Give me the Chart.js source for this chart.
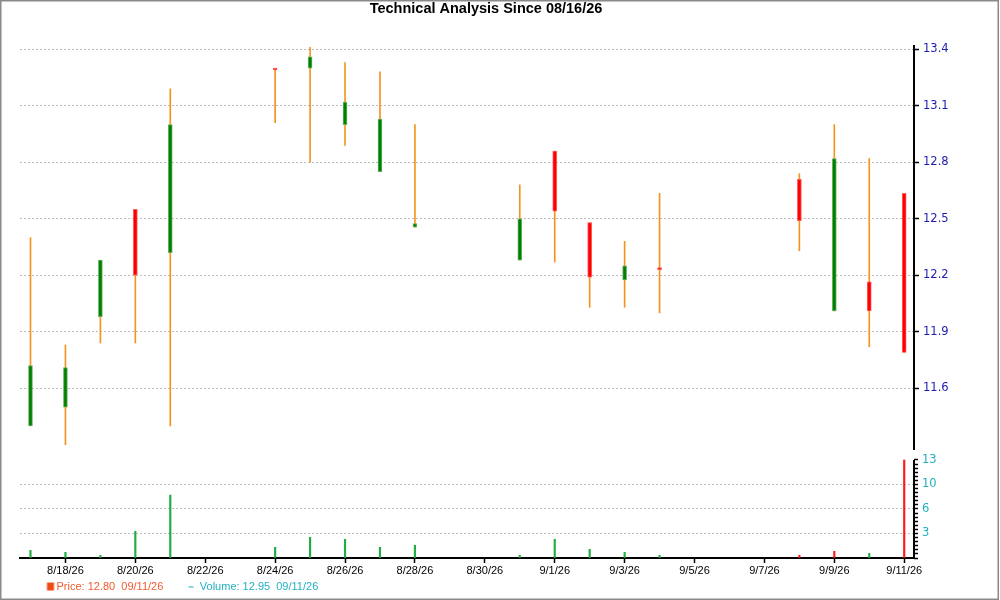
<!DOCTYPE html>
<html>
<head>
<meta charset="utf-8">
<title>Technical Analysis Since 08/16/26</title>
<script src="https://cdn.jsdelivr.net/npm/chart.js@4.4.1/dist/chart.umd.min.js"></script>
<style>
  html, body { margin: 0; padding: 0; background: #fff; }
  #wrap { position: relative; width: 1000px; height: 600px; }
</style>
</head>
<body>
<div id="wrap"><canvas id="chart" width="1000" height="600"></canvas></div>
<script>
// trading days and OHLC
const dates = ['8/17/26', '8/18/26', '8/19/26', '8/20/26', '8/21/26', '8/24/26', '8/25/26', '8/26/26', '8/27/26', '8/28/26',
               '8/31/26', '9/1/26', '9/2/26', '9/3/26', '9/4/26', '9/8/26', '9/9/26', '9/10/26', '9/11/26'];
const open  = [11.40, 11.50, 11.98, 12.55, 12.32, 13.295, 13.30, 13.00, 12.75, 12.455,
               12.28, 12.86, 12.48, 12.175, 12.235, 12.71, 12.01, 12.165, 12.635];
const close = [11.72, 11.71, 12.28, 12.20, 13.00, 13.29, 13.36, 13.12, 13.03, 12.475,
               12.50, 12.54, 12.19, 12.25, 12.23, 12.49, 12.82, 12.01, 11.79];
const high  = [12.40, 11.83, 12.28, 12.55, 13.19, 13.295, 13.41, 13.33, 13.28, 13.00,
               12.68, 12.86, 12.48, 12.38, 12.635, 12.74, 13.00, 12.82, 12.635];
const low   = [11.40, 11.30, 11.84, 11.84, 11.40, 13.01, 12.80, 12.89, 12.75, 12.455,
               12.28, 12.27, 12.03, 12.03, 12.00, 12.33, 12.01, 11.82, 11.79];
const volume   = [1.02, 0.76, 0.36, 3.55, 8.34, 1.42, 2.75, 2.49, 1.42, 1.69,
                  0.36, 2.49, 1.16, 0.76, 0.36, 0.36, 0.89, 0.62, 13.0];
const volumeUp = [true, true, true, true, true, true, true, true, true, true,
                  true, true, true, true, true, false, false, true, false];

// axes
const firstDay = '8/17/26';
const xTickLabels = ['8/18/26', '8/20/26', '8/22/26', '8/24/26', '8/26/26', '8/28/26', '8/30/26',
                     '9/1/26', '9/3/26', '9/5/26', '9/7/26', '9/9/26', '9/11/26'];
const priceTicks = [11.6, 11.9, 12.2, 12.5, 12.8, 13.1, 13.4];
const volumeTicks = [3.25, 6.5, 9.75, 13];
const volumeTickLabels = ['3', '6', '10', '13'];

const legendPrice = 'Price: 12.80  09/11/26';
const legendVolume = 'Volume: 12.95  09/11/26';

function dayIndex(label) {
    const p = label.split('/').map(Number);
    const f = firstDay.split('/').map(Number);
    return Math.round((Date.UTC(2000 + p[2], p[0] - 1, p[1]) - Date.UTC(2000 + f[2], f[0] - 1, f[1])) / 86400000);
}

const xs = dates.map(dayIndex);
// minor ticks on the volume axis: 6 per labelled step
const volStep = volumeTicks[0] / 6;
const volMinor = [];
for (let k = 0; k <= volumeTicks.length * 6; k++) volMinor.push(k * volStep);

function volMajorIndex(v) {
    return volumeTicks.findIndex(t => Math.abs(t - v) < 1e-6);
}

// small legend markers
function marker(w, h, color, ox) {
    const c = document.createElement('canvas');
    c.width = 40; c.height = 12;
    const g = c.getContext('2d');
    g.fillStyle = color;
    g.fillRect(ox, Math.round((12 - h) / 2), w, h);
    return c;
}

const framePlugin = {
    id: 'frame',
    beforeDraw(chart) {
        const ctx = chart.ctx;
        ctx.save();
        ctx.fillStyle = '#fff';
        ctx.fillRect(0, 0, chart.width, chart.height);
        ctx.restore();
    },
    afterDraw(chart) {
        const { ctx, chartArea, scales } = chart;
        ctx.save();
        // right axis lines, price part and volume part with a gap between
        ctx.strokeStyle = '#000';
        ctx.lineWidth = 2;
        ctx.beginPath();
        ctx.moveTo(chartArea.right, scales.price.top);
        ctx.lineTo(chartArea.right, scales.price.bottom - 5);
        ctx.moveTo(chartArea.right, scales.vol.getPixelForValue(volumeTicks[volumeTicks.length - 1]));
        ctx.lineTo(chartArea.right, scales.vol.bottom + 1);
        ctx.stroke();
        // outer frame
        ctx.strokeStyle = '#8a8a8a';
        ctx.lineWidth = 1.5;
        ctx.strokeRect(0.75, 0.75, chart.width - 2.5, chart.height - 1.5);
        ctx.restore();
    }
};

const gridGray = '#bdbdbd';

new Chart(document.getElementById('chart').getContext('2d'), {
    type: 'bar',
    data: {
        datasets: [
            {
                label: 'Body',
                yAxisID: 'price',
                order: 0,
                grouped: false,
                data: xs.map((x, i) => ({ x: x, y: [open[i], close[i]] })),
                backgroundColor: close.map((c, i) => c > open[i] ? '#008000' : '#ff0000'),
                borderColor: close.map((c, i) => c > open[i] ? '#68b068' : '#ff5a5a'),
                borderWidth: 1,
                borderSkipped: false,
                barThickness: 4,
                minBarLength: 2,
            },
            {
                label: 'Wick',
                yAxisID: 'price',
                order: 1,
                grouped: false,
                data: xs.map((x, i) => ({ x: x, y: [low[i], high[i]] })),
                backgroundColor: '#f3941f',
                barThickness: 1,
            },
            {
                label: 'Volume',
                yAxisID: 'vol',
                order: 2,
                grouped: false,
                data: xs.map((x, i) => ({ x: x, y: volume[i] })),
                backgroundColor: volumeUp.map(u => u ? '#1fae3f' : '#ff1a1a'),
                barThickness: 1.5,
            },
        ],
    },
    options: {
        responsive: false,
        animation: false,
        events: [],
        layout: { padding: { left: 20, right: 48, top: 0, bottom: -2 } },
        scales: {
            x: {
                type: 'linear',
                offset: false,
                min: -0.3,
                max: 25.28,
                afterBuildTicks: s => { s.ticks = xTickLabels.map(l => ({ value: dayIndex(l) })); },
                afterFit: s => { s.height = 19; },
                ticks: {
                    autoSkip: false,
                    maxRotation: 0,
                    padding: 1,
                    color: '#000',
                    font: { family: 'Liberation Sans', size: 11 },
                    callback: (v, i) => xTickLabels[i],
                },
                grid: { display: true, offset: false, drawOnChartArea: false, drawTicks: true, tickLength: 5, tickColor: '#000', tickWidth: 1.5 },
                border: { display: true, color: '#000', width: 2 },
            },
            price: {
                type: 'linear',
                position: 'right',
                stack: 'right',
                stackWeight: 410,
                min: 11.2454,
                max: 13.4228,
                afterBuildTicks: s => { s.ticks = priceTicks.map(v => ({ value: v })); },
                afterFit: s => { s.width = 38; },
                ticks: {
                    autoSkip: false,
                    padding: 4,
                    color: '#1c1cb0',
                    font: { family: 'DejaVu Sans', size: 11.5 },
                    callback: v => v.toFixed(1),
                },
                grid: { color: gridGray, lineWidth: 1, tickColor: '#000', tickLength: 5, tickWidth: 1.5 },
                border: { display: false, dash: [2, 2] },
            },
            vol: {
                type: 'linear',
                position: 'right',
                stack: 'right',
                stackWeight: 103,
                min: 0,
                max: 13.663,
                afterBuildTicks: s => { s.ticks = volMinor.map(v => ({ value: v })); },
                afterFit: s => { s.width = 38; },
                ticks: {
                    autoSkip: false,
                    padding: 4,
                    color: '#20b0c0',
                    font: { family: 'DejaVu Sans', size: 11.5 },
                    callback: v => {
                        const m = volMajorIndex(v);
                        return m >= 0 ? volumeTickLabels[m] : '';
                    },
                },
                grid: {
                    color: c => {
                        const m = volMajorIndex(c.tick.value);
                        return m >= 0 && m < volumeTicks.length - 1 ? gridGray : 'rgba(0,0,0,0)';
                    },
                    lineWidth: 1,
                    tickColor: '#000',
                    tickLength: 4,
                    tickWidth: 1.5,
                },
                border: { display: false, dash: [2, 2] },
            },
        },
        plugins: {
            tooltip: { enabled: false },
            title: {
                display: true,
                text: 'Technical Analysis Since 08/16/26',
                color: '#000',
                font: { family: 'Liberation Sans', size: 14.5, weight: 'bold' },
                padding: { top: 0, bottom: 27.6 },
            },
            legend: {
                display: true,
                position: 'bottom',
                align: 'start',
                labels: {
                    usePointStyle: true,
                    pointStyleWidth: 27,
                    padding: 4,
                    font: { family: 'Liberation Sans', size: 11 },
                    generateLabels: () => [
                        { text: legendPrice, fontColor: '#f25a2e', pointStyle: marker(7, 8, '#f04a14', 29.5), lineWidth: 0, hidden: false },
                        { text: legendVolume, fontColor: '#22b0c2', pointStyle: marker(5, 1, '#22b0c2', 27.7), lineWidth: 0, hidden: false },
                    ],
                },
            },
        },
    },
    plugins: [framePlugin],
});
</script>
</body>
</html>
